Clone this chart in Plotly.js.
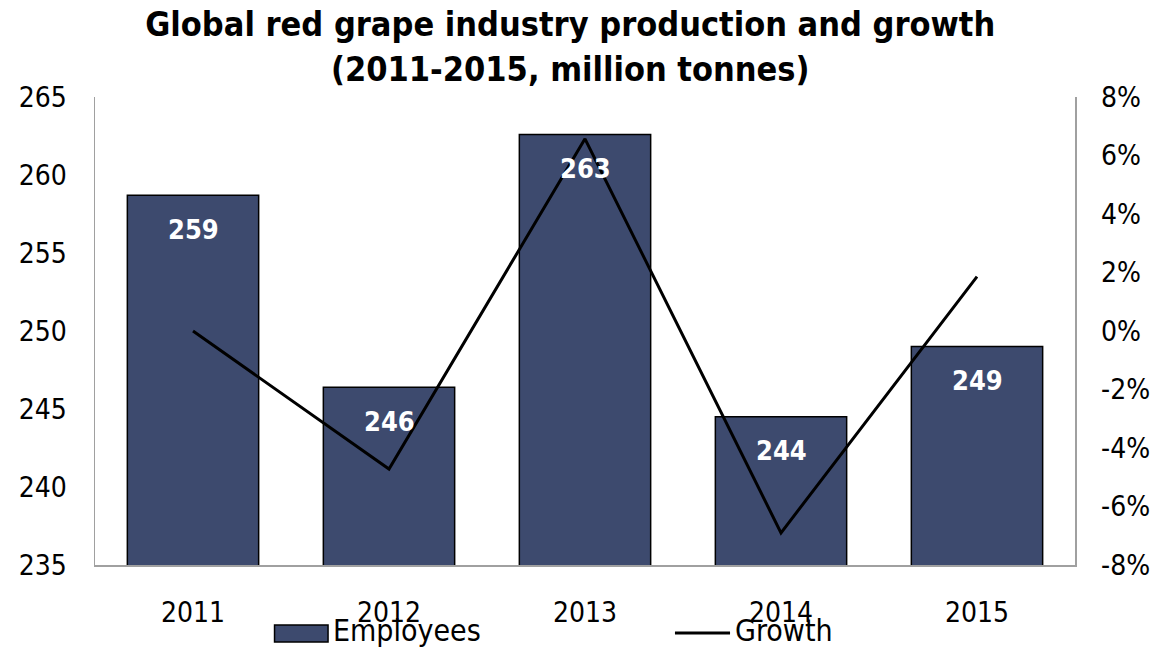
<!DOCTYPE html>
<html>
<head>
<meta charset="utf-8">
<script src="https://cdn.plot.ly/plotly-3.0.1.min.js"></script>
<style>html,body{margin:0;padding:0;background:#fff;}#chart{width:1152px;height:649px;}</style>
</head>
<body>
<div id="chart"></div>
<script>
const years = ['2011', '2012', '2013', '2014', '2015'];
const production = [258.7, 246.4, 262.6, 244.5, 249.0];
const productionLabels = ['259', '246', '263', '244', '249'];
const growth = [0.0, -0.0472, 0.0657, -0.069, 0.0186];
const leftTicks = [235, 240, 245, 250, 255, 260, 265];
const rightTicks = [-0.08, -0.06, -0.04, -0.02, 0, 0.02, 0.04, 0.06, 0.08];
const rightTickText = ['-8%', '-6%', '-4%', '-2%', '0%', '2%', '4%', '6%', '8%'];
const seriesNames = ['Employees', 'Growth'];

const FONT = 'DejaVu Sans Condensed, DejaVu Sans, sans-serif';
const BAR_COLOR = '#3D4A6E';

const traces = [
  {
    type: 'bar', name: seriesNames[0], x: years, y: production,
    marker: {color: BAR_COLOR, line: {color: '#000000', width: 1.5}},
    width: 0.67, showlegend: false
  },
  {
    type: 'scatter', mode: 'lines', name: seriesNames[1], x: years, y: growth, yaxis: 'y2',
    line: {color: '#000000', width: 3}, showlegend: false
  }
];

const annotations = years.map((yr, i) => ({
  x: i, y: production[i], xref: 'x', yref: 'y', text: '<b>' + productionLabels[i] + '</b>',
  showarrow: false, yshift: -34,
  font: {family: FONT, size: 27, color: '#ffffff'}
}));

// legend (drawn manually so the swatch matches the reference's wide box)
annotations.push(
  {xref: 'paper', yref: 'paper', x: 0.2408, y: -0.141, xanchor: 'left', yanchor: 'middle',
   text: seriesNames[0], showarrow: false, font: {family: FONT, size: 30, color: '#000'}},
  {xref: 'paper', yref: 'paper', x: 0.651, y: -0.141, xanchor: 'left', yanchor: 'middle',
   text: seriesNames[1], showarrow: false, font: {family: FONT, size: 30, color: '#000'}}
);
const shapes = [
  {type: 'rect', xref: 'paper', yref: 'paper', x0: 0.1832, x1: 0.2378, y0: -0.1645, y1: -0.1282,
   fillcolor: BAR_COLOR, line: {color: '#000', width: 1.5}},
  {type: 'line', xref: 'paper', yref: 'paper', x0: 0.5918, x1: 0.648, y0: -0.1453, y1: -0.1453,
   line: {color: '#000', width: 3}}
];

const layout = {
  width: 1152, height: 649,
  margin: {l: 95, r: 77, t: 97, b: 84, autoexpand: false},
  paper_bgcolor: '#ffffff', plot_bgcolor: '#ffffff',
  font: {family: FONT, size: 28, color: '#000000'},
  showlegend: false,
  title: {
    text: '<b>Global red grape industry production and growth<br>(2011-2015, million tonnes)</b>',
    x: 0.495, xanchor: 'center', y: 0.944, yanchor: 'middle',
    font: {family: FONT, size: 34, color: '#000000'}
  },
  xaxis: {
    type: 'category', range: [-0.5, 4.5], showline: true, linecolor: '#a0a0a0', linewidth: 1.5,
    ticks: 'outside', ticklen: 22, tickcolor: 'rgba(0,0,0,0)',
    showgrid: false, zeroline: false
  },
  yaxis: {
    range: [235, 265], tickvals: leftTicks, showline: true, linecolor: '#a0a0a0', linewidth: 1.5,
    showgrid: false, zeroline: false, ticks: 'outside', ticklen: 21, tickcolor: 'rgba(0,0,0,0)'
  },
  yaxis2: {
    overlaying: 'y', side: 'right', range: [-0.08, 0.08], tickvals: rightTicks, ticktext: rightTickText,
    showline: true, linecolor: '#a0a0a0', linewidth: 1.5, showgrid: false, zeroline: false,
    ticks: 'outside', ticklen: 19, tickcolor: 'rgba(0,0,0,0)'
  },
  annotations: annotations,
  shapes: shapes
};

Plotly.newPlot('chart', traces, layout, {displayModeBar: false, staticPlot: true});
</script>
</body>
</html>
